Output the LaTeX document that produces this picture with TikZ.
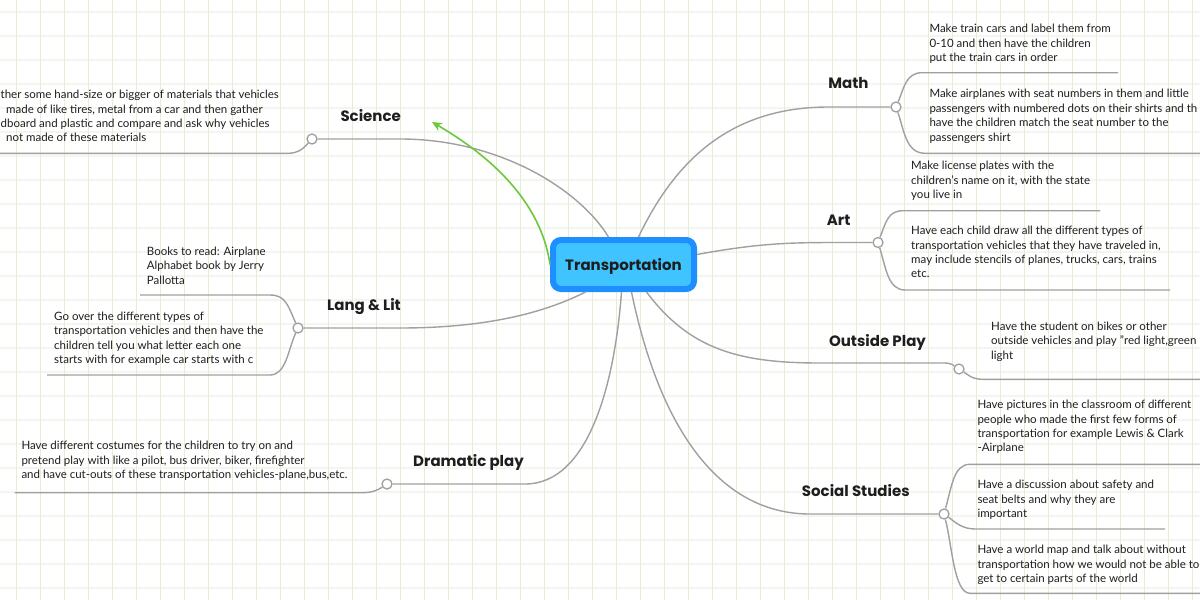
\documentclass[tikz,border=0pt]{standalone}
\usepackage{fontspec}
\setmainfont{Lato}
\newfontfamily\titlefont{Poppins}
\usetikzlibrary{arrows.meta}
\definecolor{gridv}{HTML}{E2EED6}
\definecolor{gridh}{HTML}{F2F6EC}
\definecolor{branchgray}{HTML}{A0A0A0}
\definecolor{cblue}{HTML}{1E8FFF}
\definecolor{cfill}{HTML}{40C4FF}
\definecolor{relgreen}{HTML}{6CC83C}
\definecolor{txt}{HTML}{1E1E1E}
\begin{document}
\begin{tikzpicture}[x=1pt,y=-1pt,
  branch/.style={draw=branchgray, line width=1.4pt},
  knob/.style={circle, draw=branchgray, fill=white, line width=1.3pt, minimum size=10pt, inner sep=0pt},
  leaf/.style={anchor=north west, inner sep=0pt, align=left, text=txt, font=\fontsize{11.5}{14.4}\selectfont},
  topic/.style={anchor=base, inner sep=0pt, text=txt, font=\titlefont\bfseries\fontsize{15}{18}\selectfont},
]
\clip (0,0) rectangle (1200,600);
\fill[white] (0,0) rectangle (1200,600);
\foreach \y in {12,36,...,588} \draw[gridh, line width=1.5pt] (0,\y) -- (1200,\y);
\foreach \x in {16,40,...,1192} \draw[gridv, line width=1pt] (\x,0) -- (\x,600);

% central topic
\node[draw=cblue, fill=cfill, line width=6pt, rounded corners=8pt, minimum width=141pt, minimum height=49pt, inner sep=0pt, text height=11pt, text depth=0pt, text=txt, font=\titlefont\bfseries\fontsize{15}{18}\selectfont] (c) at (623.5,264.5) {Transportation};

% main topics
\node[topic] (sci) at (370.7,121) {Science};
\node[topic] (ll) at (364,310) {Lang \& Lit};
\node[topic] (dr) at (468.5,466) {Dramatic play};
\node[topic] (math) at (848.5,88) {Math};
\node[topic] (art) at (838.7,225) {Art};
\node[topic] (out) at (877.5,346) {Outside Play};
\node[topic] (ss) at (855.8,496) {Social Studies};

% fold knobs
\node[knob] (scic) at (312,139) {};
\node[knob] (llc) at (298,328) {};
\node[knob] (drc) at (387,484) {};
\node[knob] (mathc) at (896,107) {};
\node[knob] (artc) at (878,242.5) {};
\node[knob] (outc) at (959,369) {};
\node[knob] (ssc) at (944,514) {};

% branches from the centre
\draw[branch] ([xshift=-15pt]c.north) .. controls (580,190) and (500,139) .. (400,139) -- (scic);
\draw[branch] ([xshift=15pt]c.north) .. controls (680,150) and (740,107) .. (829,107) -- (mathc);
\draw[branch] ([yshift=10pt]c.east) .. controls (760,243) and (790,242.5) .. (840,242.5) -- (artc);
\draw[branch] ([xshift=23pt]c.south) .. controls (690,350) and (740,363) .. (820,363) -- (945,363) .. controls (950,363) and (953,365) .. (outc);
\draw[branch] ([xshift=8pt]c.south) .. controls (660,430) and (720,514) .. (810,514) -- (ssc);
\draw[branch] ([xshift=-38pt]c.south) .. controls (540,315) and (480,328) .. (400,328) -- (llc);
\draw[branch] ([xshift=-2pt]c.south) .. controls (615,380) and (590,484) .. (525,484) -- (drc);

% relationship arrow
\coordinate (relend) at (432,122);
\draw[relgreen, line width=1.6pt, -{Stealth[length=10pt,width=9pt]}] (c.west) .. controls (540,195) and (480,150) .. (relend);

% leaf underlines
\coordinate (sciU) at (-20,153.3);
\coordinate (llaU) at (140,295);
\coordinate (llbU) at (47,375);
\coordinate (drU) at (14.5,492.7);
\coordinate (maU) at (1118,72.7);
\coordinate (mbU) at (1210,153.3);
\coordinate (arU) at (1100,210.7);
\coordinate (abU) at (1170,290);
\coordinate (ouU) at (1210,379.3);
\coordinate (saU) at (1210,464.3);
\coordinate (sbU) at (1165,529);
\coordinate (scU) at (1210,593.3);

\draw[branch] (scic) .. controls (302,150) and (297,153.3) .. (288,153.3) -- (sciU);
\draw[branch] (llc) .. controls (288,306) and (286,295) .. (270,295) -- (llaU);
\draw[branch] (llc) .. controls (288,350) and (286,375) .. (270,375) -- (llbU);
\draw[branch] (drc) .. controls (378,490) and (372,492.7) .. (362,492.7) -- (drU);
\draw[branch] (mathc) .. controls (904,88) and (906,72.7) .. (922,72.7) -- (maU);
\draw[branch] (mathc) .. controls (904,130) and (906,153.3) .. (925,153.3) -- (mbU);
\draw[branch] (artc) .. controls (886,222) and (888,210.7) .. (903,210.7) -- (arU);
\draw[branch] (artc) .. controls (886,268) and (888,290) .. (905,290) -- (abU);
\draw[branch] (outc) .. controls (967,374) and (972,379.3) .. (982,379.3) -- (ouU);
\draw[branch] (ssc) .. controls (952,485) and (954,464.3) .. (970,464.3) -- (saU);
\draw[branch] (ssc) .. controls (955,522) and (962,529) .. (975,529) -- (sbU);
\draw[branch] (ssc) .. controls (952,545) and (954,593.3) .. (970,593.3) -- (scU);

% leaf texts
\node[leaf] (t1) at (0.5,88.4) {\strut ther some hand-size or bigger of materials that vehicles\\\hspace*{5.5pt}made of like tires, metal from a car and then gather\\dboard and plastic and compare and ask why vehicles\\\hspace*{5.5pt}not made of these materials};
\node[leaf] (t2) at (146.7,245.1) {\strut Books to read: Airplane\\Alphabet book by Jerry\\Pallotta};
\node[leaf] (t3) at (54,310.1) {\strut Go over the different types of\\transportation vehicles and then have the\\children tell you what letter each one\\starts with for example car starts with c};
\node[leaf] (t4) at (21.3,439.4) {\strut Have different costumes for the children to try on and\\pretend play with like a pilot, bus driver, biker, firefighter\\and have cut-outs of these transportation vehicles-plane,bus,etc.};
\node[leaf] (t5) at (929.3,22.4) {\strut Make train cars and label them from\\0-10 and then have the children\\put the train cars in order};
\node[leaf] (t6) at (929.3,87.7) {\strut Make airplanes with seat numbers in them and little\\passengers with numbered dots on their shirts and th\\have the children match the seat number to the\\passengers shirt};
\node[leaf] (t7) at (911,159.4) {\strut Make license plates with the\\children's name on it, with the state\\you live in};
\node[leaf] (t8) at (911,224.4) {\strut Have each child draw all the different types of\\transportation vehicles that they have traveled in,\\may include stencils of planes, trucks, cars, trains\\etc.};
\node[leaf] (t9) at (991,320.1) {\strut Have the student on bikes or other\\outside vehicles and play "red light,green\\light};
\node[leaf] (t10) at (977.3,398.4) {\strut Have pictures in the classroom of different\\people who made the first few forms of\\transportation for example Lewis \& Clark\\-Airplane};
\node[leaf] (t11) at (977.3,478.4) {\strut Have a discussion about safety and\\seat belts and why they are\\important};
\node[leaf] (t12) at (977.3,543.4) {\strut Have a world map and talk about without\\transportation how we would not be able to\\get to certain parts of the world};
\end{tikzpicture}
\end{document}
